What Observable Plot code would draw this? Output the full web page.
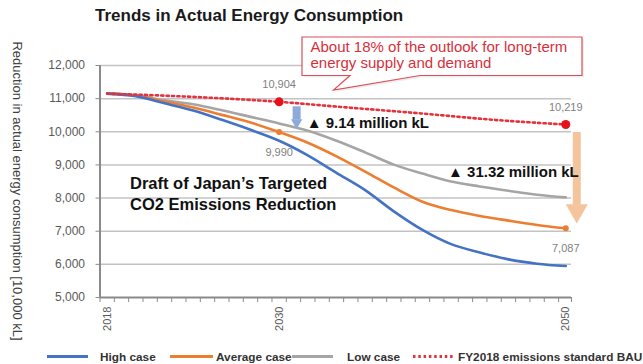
<!DOCTYPE html>
<html>
<head>
<meta charset="utf-8">
<script src="https://cdn.jsdelivr.net/npm/d3@7"></script>
<script src="https://cdn.jsdelivr.net/npm/@observablehq/plot@0.6"></script>
<style>
  body { margin: 0; background: #fff; }
  #chart { width: 643px; height: 364px; }
</style>
</head>
<body>
<div id="chart"></div>
<script>
// Projected actual energy consumption (10,000 kL), by case
const years       = [2018, 2020, 2022, 2024, 2026, 2028, 2030, 2032, 2034, 2036, 2038, 2040, 2042, 2044, 2046, 2048, 2050];
const highCase    = [11150, 11070, 10860, 10640, 10360, 10060, 9730, 9290, 8760, 8240, 7600, 7040, 6610, 6360, 6150, 6020, 5950];
const averageCase = [11150, 11090, 10910, 10730, 10510, 10280, 9990, 9670, 9260, 8800, 8320, 7890, 7640, 7460, 7320, 7190, 7087];
const lowCase     = [11150, 11100, 10950, 10830, 10650, 10450, 10250, 10030, 9730, 9380, 9010, 8740, 8500, 8350, 8220, 8100, 8020];

// FY2018 emissions standard BAU
const bauYears  = [2018, 2022, 2026, 2030, 2034, 2040, 2045, 2050];
const bauValues = [11150, 11090, 11010, 10904, 10760, 10550, 10360, 10219];

// Reductions called out against BAU
const markedYears     = [2030, 2050];
const bauMarked       = [10904, 10219];
const averageMarked   = [9990, 7087];
const reductionLabels = ["▲ 9.14 million kL", "▲ 31.32 million kL"];

// Axes and texts
const yTicks      = [5000, 6000, 7000, 8000, 9000, 10000, 11000, 12000];
const xTickLabels = [2018, 2030, 2050];
const seriesNames = ["High case", "Average case", "Low case", "FY2018 emissions standard BAU"];
const titleText   = "Trends in Actual Energy Consumption";
const yAxisTitle  = "Reduction in actual energy consumption [10,000 kL]";
const calloutLines = ["About 18% of the outlook for long-term", "energy supply and demand"];
const draftLines   = ["Draft of Japan’s Targeted", "CO2 Emissions Reduction"];

// ---- styling ----
const FONT = "'Liberation Sans', Arial, sans-serif";
const C = { high: "#4472c4", average: "#ed7d31", low: "#a5a5a5", bau: "#e2323d",
            bauDot: "#e5121c", axis: "#8a8a8a", grid: "#c3c3c3", tickText: "#595959",
            valueText: "#7f7f7f", blueArrow: "#8eaadb", orangeArrow: "#f4c49c", callout: "#d6303b" };

const toRows = vals => years.map((year, i) => ({ year, value: vals[i] }));
const bauRows = bauYears.map((year, i) => ({ year, value: bauValues[i] }));
const marked = markedYears.map((year, i) => ({
  year, bau: bauMarked[i], avg: averageMarked[i], label: reductionLabels[i],
  mid: (bauMarked[i] + averageMarked[i]) / 2
}));
const fmt = d3.format(",");

const xStart = years[0] - 0.5;
const xEnd = years[years.length - 1] + 0.4;
const yearBoundaries = d3.range(xStart, years[years.length - 1], 1).concat([xEnd]);

const chart = Plot.plot({
  width: 643,
  height: 364,
  marginLeft: 99.5,
  marginRight: 72,
  marginTop: 65,
  marginBottom: 67,
  x: { domain: [xStart, xEnd] },
  y: { domain: [yTicks[0], yTicks[yTicks.length - 1]] },
  style: { fontFamily: FONT, background: "#fff" },
  marks: [
    Plot.gridY(yTicks.slice(1), { stroke: C.grid, strokeOpacity: 1, strokeWidth: 1.5 }),
    Plot.ruleY([yTicks[0]], { stroke: C.axis, strokeWidth: 2 }),
    Plot.ruleX([xStart], { stroke: C.axis, strokeWidth: 2 }),
    Plot.axisY(yTicks, { tickSize: 4, tickPadding: 11, tickFormat: fmt, fontSize: 12,
                         color: C.tickText, stroke: C.axis, label: null }),
    Plot.axisX(yearBoundaries, { tickSize: 5, tickFormat: () => "", stroke: C.axis, label: null }),
    Plot.axisX(xTickLabels, { tickSize: 0, tickRotate: -90, tickPadding: 9, fontSize: 11,
                              tickFormat: d => String(d), color: C.tickText, label: null }),

    Plot.line(toRows(lowCase),     { x: "year", y: "value", stroke: C.low,     strokeWidth: 2.6, curve: "monotone-x" }),
    Plot.line(toRows(averageCase), { x: "year", y: "value", stroke: C.average, strokeWidth: 2.6, curve: "monotone-x" }),
    Plot.line(toRows(highCase),    { x: "year", y: "value", stroke: C.high,    strokeWidth: 2.6, curve: "monotone-x" }),
    Plot.line(bauRows, { x: "year", y: "value", stroke: C.bau, strokeWidth: 2.6,
                         strokeDasharray: "2.2 3.2", curve: "monotone-x" }),

    // reduction arrows
    Plot.ruleX([marked[0]], { x: "year", y1: "bau", y2: "avg", dx: 17.5, stroke: C.blueArrow,
                              strokeWidth: 8, insetTop: 5, insetBottom: 12 }),
    Plot.dot([marked[0]], { x: "year", y: "avg", dx: 17.5, dy: -9.5, symbol: "triangle", rotate: 180,
                            r: 4.2, fill: C.blueArrow }),
    Plot.ruleX([marked[1]], { x: "year", y1: "bau", y2: "avg", dx: 11, stroke: C.orangeArrow,
                              strokeWidth: 8, insetTop: 8, insetBottom: 23 }),
    Plot.dot([marked[1]], { x: "year", y: "avg", dx: 11, dy: -17.7, symbol: "triangle", rotate: 180,
                            r: 8.2, fill: C.orangeArrow }),

    Plot.dot(marked, { x: "year", y: "avg", r: 3, fill: C.average }),
    Plot.dot(marked, { x: "year", y: "bau", r: 4.5, fill: C.bauDot }),

    // value labels
    Plot.text(marked, { x: "year", y: "bau", text: d => fmt(d.bau), dy: -17, fontSize: 11, fill: C.valueText }),
    Plot.text(marked, { x: "year", y: "avg", text: d => fmt(d.avg), dy: 20, fontSize: 11, fill: C.valueText }),

    // reduction labels
    Plot.text([marked[0]], { x: "year", y: "mid", text: "label", dx: 27.5, dy: 6.5, textAnchor: "start",
                             fontSize: 15, fontWeight: "bold", fill: "#111" }),
    Plot.text([marked[1]], { x: "year", y: "mid", text: "label", dx: 13, dy: -4, textAnchor: "end",
                             fontSize: 15, fontWeight: "bold", fill: "#111" }),

    // headline inside the plot
    Plot.text([draftLines.join("\n")], { text: d => d, frameAnchor: "top-left", dx: 30, dy: 127,
                                         textAnchor: "start", lineAnchor: "middle", lineHeight: 1.33,
                                         fontSize: 16.5, fontWeight: "bold", fill: "#111" })
  ]
});

document.getElementById("chart").appendChild(chart);

const svg = d3.select(chart);

// title
svg.append("text")
  .attr("x", 95).attr("y", 21).attr("text-anchor", "start")
  .attr("font-family", FONT).attr("font-size", 17).attr("font-weight", "bold")
  .attr("fill", "#1a1a1a")
  .text(titleText);

// y-axis title, reading downward
svg.append("text")
  .attr("transform", "translate(17,191) rotate(90)")
  .attr("text-anchor", "middle").attr("dominant-baseline", "central")
  .attr("font-family", FONT).attr("font-size", 13).attr("fill", "#404040")
  .text(yAxisTitle);

// speech-bubble callout
const callout = svg.append("g");
const bubble = "M302,37 H582 V75.5 H420 L333.5,90 L350,75.5 H302 Z";
callout.append("path").attr("d", bubble).attr("transform", "translate(2,2)")
  .attr("fill", "#e6e6e6").attr("opacity", 0.7);
callout.append("path").attr("d", bubble)
  .attr("fill", "#fff").attr("stroke", C.callout).attr("stroke-width", 1.2).attr("stroke-opacity", 0.85);
callout.selectAll("text.callout").data(calloutLines).join("text")
  .attr("class", "callout")
  .attr("x", 310.5).attr("y", (d, i) => 52 + i * 15.6).attr("text-anchor", "start")
  .attr("font-family", FONT).attr("font-size", 15).attr("fill", C.callout)
  .text(d => d);

// legend below the axis
const legendLayout = [
  { x1: 47,  x2: 88,  tx: 100, stroke: C.high,    dash: null },
  { x1: 170, x2: 213, tx: 216, stroke: C.average, dash: null },
  { x1: 292, x2: 333, tx: 347, stroke: C.low,     dash: null },
  { x1: 413, x2: 454, tx: 458, stroke: C.bau,     dash: "2.5 2.8" }
];
const legendY = 356.5;
const legend = svg.append("g");
seriesNames.forEach((name, i) => {
  const L = legendLayout[i];
  legend.append("line")
    .attr("x1", L.x1).attr("x2", L.x2).attr("y1", legendY).attr("y2", legendY)
    .attr("stroke", L.stroke).attr("stroke-width", 3)
    .attr("stroke-dasharray", L.dash);
  legend.append("text")
    .attr("x", L.tx).attr("y", legendY).attr("dominant-baseline", "central").attr("text-anchor", "start")
    .attr("font-family", FONT).attr("font-size", 11.8).attr("font-weight", "bold").attr("fill", "#333")
    .text(name);
});
</script>
</body>
</html>
